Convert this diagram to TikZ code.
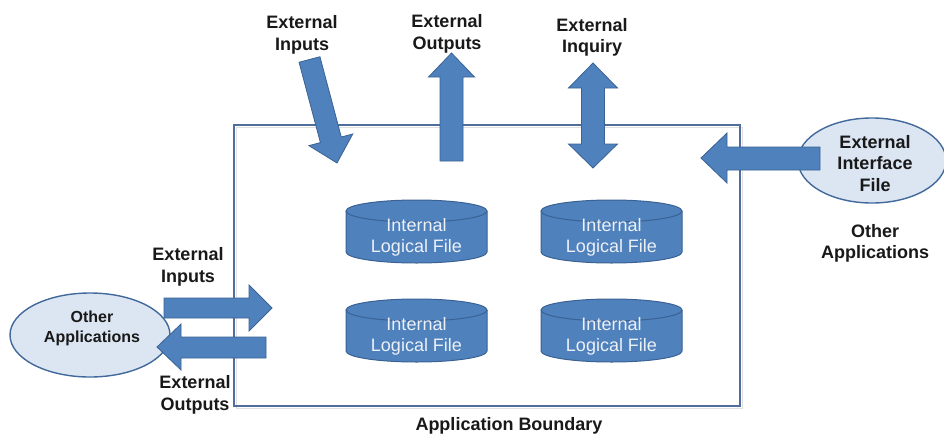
\documentclass[tikz,border=0pt]{standalone}
\usepackage{fontspec}
\setmainfont{Liberation Sans}
\usetikzlibrary{shapes.geometric}
\definecolor{arrowblue}{RGB}{79,129,189}
\definecolor{arrowedge}{RGB}{58,98,148}
\definecolor{ellfill}{RGB}{220,230,242}
\definecolor{elledge}{RGB}{65,105,155}
\definecolor{boundary}{RGB}{80,110,155}
\definecolor{cyltext}{RGB}{236,240,247}
\definecolor{labeltext}{RGB}{25,25,25}
\newcommand\ilfcyl[3]{%
  \begin{scope}[shift={(#2,#3)}]
    \draw[cylbody] (-70.5,-20.5) -- (-70.5,20.5)
      arc[start angle=180,end angle=0,x radius=70.5,y radius=11]
      -- (70.5,-20.5)
      arc[start angle=0,end angle=-180,x radius=70.5,y radius=11] -- cycle;
    \draw[cylbody,fill=none] (-70.5,-20.5)
      arc[start angle=180,end angle=0,x radius=70.5,y radius=11];
  \end{scope}
  \node[cyltxt] (#1) at (#2,#3+6) {Internal\\Logical File};
}
\begin{document}
\begin{tikzpicture}[x=1pt,y=-1pt,
  blockarrow/.style={fill=arrowblue, draw=arrowedge, line width=0.8pt, line join=miter},
  lbl/.style={font=\bfseries\fontsize{18}{21.5}\selectfont, text=labeltext, align=center, inner sep=0pt},
  smalllbl/.style={font=\bfseries\fontsize{16}{20}\selectfont, text=labeltext, align=center, inner sep=0pt},
  cyltxt/.style={font=\fontsize{18}{21}\selectfont, text=cyltext, align=center, inner sep=0pt},
  app/.style={ellipse, fill=ellfill, draw=elledge, line width=1.4pt, inner sep=0pt},
  cylbody/.style={fill=arrowblue, draw=arrowedge, line width=1pt},
  boundbox/.style={draw=boundary, line width=1.8pt, inner sep=0pt},
]
\useasboundingbox (0,0) rectangle (944,436);
\fill[white] (0,0) rectangle (944,436);

% application boundary (with faint shadow)
\draw[black!12, line width=1.6pt] (236.5,127.5) rectangle (742.5,408.5);
\node[boundbox, minimum width=506pt, minimum height=281pt] (boundary) at (487,265.5) {};
\node[lbl] (boundlbl) at (509,426) {Application Boundary};

% other applications (ellipses)
\node[app, minimum width=160pt, minimum height=84pt] (leftapp) at (90,335) {};
\node[app, minimum width=148pt, minimum height=85pt] (eif) at (872,160.5) {};

% internal logical files
\ilfcyl{ilf1}{416.5}{231.5}
\ilfcyl{ilf2}{611.5}{231.5}
\ilfcyl{ilf3}{416.5}{330.5}
\ilfcyl{ilf4}{611.5}{330.5}

% block arrows
% external inputs (top, diagonal)
\draw[blockarrow] (319.94,56.73) -- (341.28,137.04) -- (352.78,133.98) -- (337,163)
  -- (308.9,145.64) -- (320.4,142.58) -- (299.06,62.27) -- cycle;
% external outputs (top, up)
\draw[blockarrow] (440,161) -- (440,77) -- (428.5,77) -- (451.5,53) -- (474.5,77)
  -- (463,77) -- (463,161) -- cycle;
% external inquiry (double)
\draw[blockarrow] (581.5,88) -- (568.5,88) -- (593,63) -- (617.5,88) -- (604.5,88)
  -- (604.5,144) -- (617.5,144) -- (593,168) -- (568.5,144) -- (581.5,144) -- cycle;
% external interface file arrow
\draw[blockarrow] (820,147) -- (727,147) -- (727,133) -- (701,158) -- (727,183)
  -- (727,170) -- (820,170) -- cycle;
% left: external inputs
\draw[blockarrow] (164,298) -- (249,298) -- (249,285) -- (272,308) -- (249,331)
  -- (249,318) -- (164,318) -- cycle;
% left: external outputs
\draw[blockarrow] (266,337) -- (181,337) -- (181,324) -- (157,347) -- (181,370)
  -- (181,358) -- (266,358) -- cycle;

% labels
\node[lbl] (topin) at (302,35) {External\\Inputs};
\node[lbl] (topout) at (447,34) {External\\Outputs};
\node[lbl] (topinq) at (592,37.5) {External\\Inquiry};
\node[lbl] (eiflbl) at (875,163.5) {External\\Interface\\File};
\node[lbl] (otherright) at (875,243.5) {Other\\Applications};
\node[smalllbl] (otherleft) at (92,328) {Other\\Applications};
\node[lbl] (leftin) at (188,267) {External\\Inputs};
\node[lbl] (leftout) at (195,395) {External\\Outputs};
\end{tikzpicture}
\end{document}
